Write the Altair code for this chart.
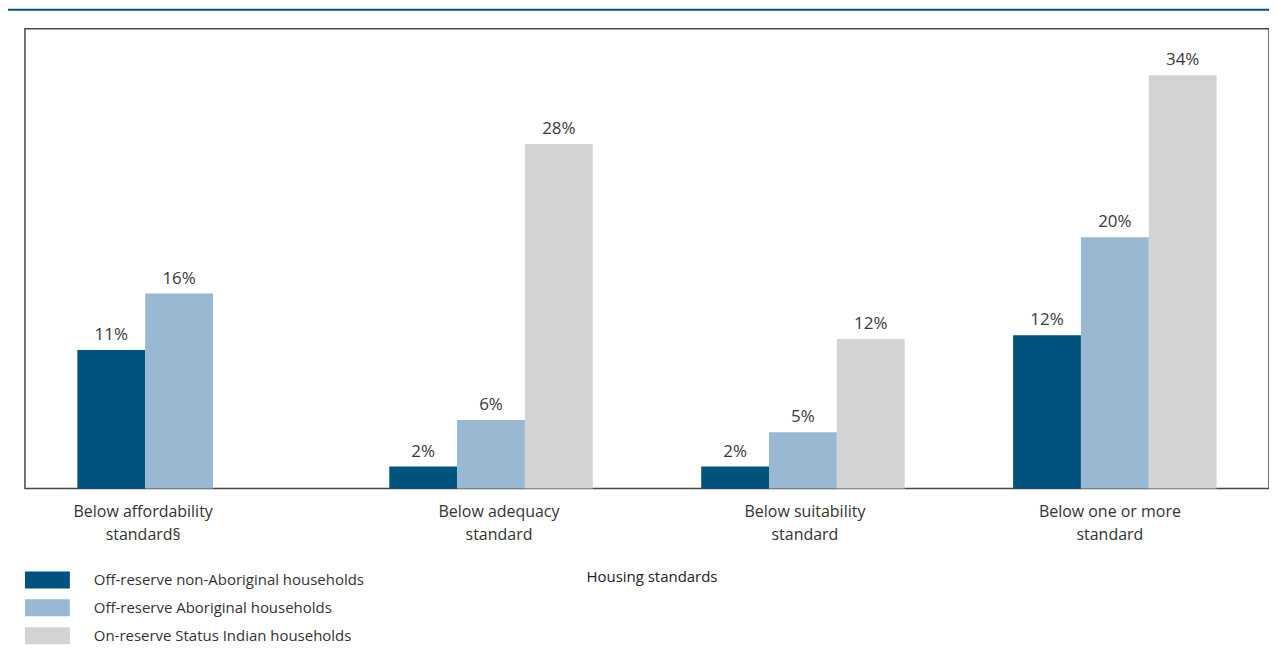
import altair as alt
import pandas as pd

categories = ["Below affordability|standard§", "Below adequacy|standard",
              "Below suitability|standard", "Below one or more|standard"]
series = ["Off-reserve non-Aboriginal households",
          "Off-reserve Aboriginal households",
          "On-reserve Status Indian households"]
non_aboriginal = [11.3, 1.8, 1.8, 12.5]
aboriginal = [15.9, 5.6, 4.6, 20.5]
on_reserve = [None, 28.1, 12.2, 33.7]
non_aboriginal_labels = ["11%", "2%", "2%", "12%"]
aboriginal_labels = ["16%", "6%", "5%", "20%"]
on_reserve_labels = [None, "28%", "12%", "34%"]
colors = ["#00537e", "#98b9d1", "#d1d3d5"]
label_shift = [-36, 8, 2, -5]

rows = []
for vals, labs, s in [(non_aboriginal, non_aboriginal_labels, series[0]),
                      (aboriginal, aboriginal_labels, series[1]),
                      (on_reserve, on_reserve_labels, series[2])]:
    for c, v, l in zip(categories, vals, labs):
        if v is not None:
            rows.append({"category": c, "series": s, "value": v, "label": l})
df = pd.DataFrame(rows)

FONT = "Open Sans"

shift_expr = ""
for c, o in zip(categories[:-1], label_shift[:-1]):
    shift_expr += f"datum.value == '{c}' ? {o} : "
shift_expr += str(label_shift[-1])

x_enc = alt.X("category:N", sort=categories,
              scale=alt.Scale(paddingInner=0.3476, paddingOuter=0.168),
              axis=alt.Axis(title="Housing standards", labelAngle=0,
                            labelExpr="split(datum.label, '|')",
                            labelOffset={"expr": shift_expr},
                            labelFontSize=16, labelColor="#333333", labelFont=FONT,
                            labelPadding=15, labelLineHeight=23,
                            domain=False, ticks=False, grid=False,
                            titleFontSize=15, titleFontWeight="normal",
                            titleColor="#222222", titleFont=FONT, titlePadding=27,
                            titleX=628))
xo_enc = alt.XOffset("series:N", sort=series,
                     scale=alt.Scale(domain=series, paddingInner=0, paddingOuter=0))
y_enc = alt.Y("value:Q", scale=alt.Scale(domain=[0, 37.5], nice=False), axis=None)

bars = alt.Chart(df).mark_bar().encode(
    x=x_enc, xOffset=xo_enc, y=y_enc,
    color=alt.Color("series:N", sort=series,
                    scale=alt.Scale(domain=series, range=colors),
                    legend=alt.Legend(title=None, orient="none", legendX=14, legendY=544,
                                      symbolType="M-2.647,-1H2.647V1H-2.647Z",
                                      symbolSize=289, symbolStrokeWidth=0,
                                      symbolOpacity=1,
                                      labelOffset=38, labelFontSize=15, labelFont=FONT,
                                      labelColor="#333333", labelLimit=500,
                                      rowPadding=11, padding=0))
)

text = alt.Chart(df).mark_text(baseline="alphabetic", dy=-10, fontSize=17,
                               font=FONT, color="#3a3a3a").encode(
    x=alt.X("category:N", sort=categories), xOffset=xo_enc, y=y_enc,
    text="label:N")

frame = alt.Chart(pd.DataFrame({"a": [0]})).mark_rect(color="#00537e").encode(
    x=alt.value(-17), x2=alt.value(1260), y=alt.value(-20), y2=alt.value(-18))

chart = alt.layer(bars, text, frame).properties(
    width=1247, height=461,
    autosize=alt.AutoSizeParams(type="none"),
    padding={"left": 17, "top": 20, "right": 0, "bottom": 160},
).configure_view(stroke="#4a4a4a", strokeWidth=1.5)

chart.save("out.html", embed_options={"renderer": "svg", "actions": False})
